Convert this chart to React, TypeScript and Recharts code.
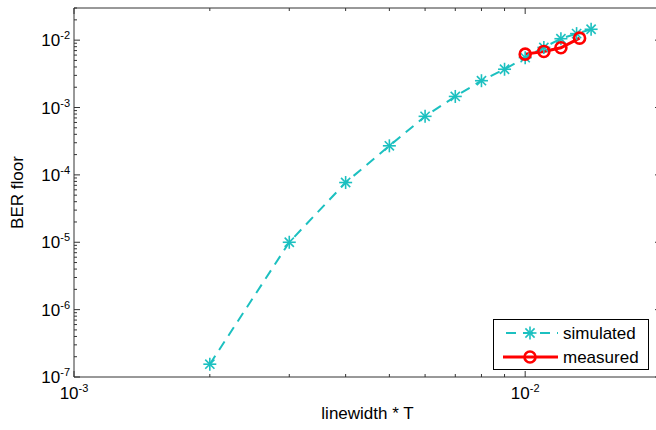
import { LineChart, Line, XAxis, YAxis, ReferenceLine, Legend } from 'recharts';

// linewidth * T values (x) and BER floor (y)
const simX = [0.002, 0.003, 0.004, 0.005, 0.006, 0.007, 0.008, 0.009, 0.010, 0.011, 0.012, 0.013, 0.014];
const simBER = [1.55e-7, 1.0e-5, 7.7e-5, 2.7e-4, 7.4e-4, 1.46e-3, 2.5e-3, 3.7e-3, 5.5e-3, 7.8e-3, 1.05e-2, 1.25e-2, 1.45e-2];
const measX = [0.010, 0.011, 0.012, 0.0132];
const measBER = [6.2e-3, 6.8e-3, 7.7e-3, 1.07e-2];

const xMajorTicks = [0.001, 0.01];
const xMinorTicks = [0.002, 0.003, 0.004, 0.005, 0.006, 0.007, 0.008, 0.009, 0.02];
const yMajorTicks = [1e-7, 1e-6, 1e-5, 1e-4, 1e-3, 1e-2];
const yMinorSteps = [2, 3, 4, 5, 6, 7, 8, 9];

const X_DOMAIN: [number, number] = [0.001, 0.02];
const Y_DOMAIN: [number, number] = [1e-7, 0.03];

const simData = simX.map((x, i) => ({ x, y: simBER[i] }));
const measData = measX.map((x, i) => ({ x, y: measBER[i] }));

const yMinorTicks = yMajorTicks
    .flatMap((d) => yMinorSteps.map((s) => +(d * s).toPrecision(3)))
    .filter((v) => v <= Y_DOMAIN[1]);

const CHART_W = 700;
const CHART_H = 430;
const PLOT_LEFT = 74;
const PLOT_TOP = 8;
const PLOT_RIGHT = 661;
const PLOT_BOTTOM = 377;

const FONT = '"Liberation Sans", Arial, sans-serif';
const CYAN = '#1cc0c0';
const RED = '#ff0000';
const AXIS = '#333';

const isMajor = (v: number) => Math.abs(Math.log10(v) - Math.round(Math.log10(v))) < 1e-6;

const XTick = (props: any) => {
    const { x, payload } = props;
    const v = payload.value;
    const major = isMajor(v);
    const len = major ? 6 : 3;
    return (
        <g>
            <line x1={x} y1={PLOT_BOTTOM} x2={x} y2={PLOT_BOTTOM - len} stroke={AXIS} />
            <line x1={x} y1={PLOT_TOP} x2={x} y2={PLOT_TOP + len} stroke={AXIS} />
            {major && (
                <text x={x} y={399} textAnchor="middle" fontFamily={FONT} fontSize={17} fill="#000">
                    <tspan>10</tspan>
                    <tspan dy={-7} fontSize={11}>{Math.round(Math.log10(v))}</tspan>
                </text>
            )}
        </g>
    );
};

const YTick = (props: any) => {
    const { y, payload } = props;
    const v = payload.value;
    const major = isMajor(v);
    const len = major ? 6 : 3;
    return (
        <g>
            <line x1={PLOT_LEFT} y1={y} x2={PLOT_LEFT + len} y2={y} stroke={AXIS} />
            <line x1={PLOT_RIGHT} y1={y} x2={PLOT_RIGHT - len} y2={y} stroke={AXIS} />
            {major && (
                <text x={70} y={y + 6} textAnchor="end" fontFamily={FONT} fontSize={17} fill="#000">
                    <tspan>10</tspan>
                    <tspan dy={-7} fontSize={11}>{Math.round(Math.log10(v))}</tspan>
                </text>
            )}
        </g>
    );
};

const Star = ({ cx, cy, r = 6.5 }: { cx: number; cy: number; r?: number }) => {
    const d = r * Math.SQRT1_2;
    return (
        <g stroke={CYAN} strokeWidth={1.6}>
            <line x1={cx - r} y1={cy} x2={cx + r} y2={cy} />
            <line x1={cx} y1={cy - r} x2={cx} y2={cy + r} />
            <line x1={cx - d} y1={cy - d} x2={cx + d} y2={cy + d} />
            <line x1={cx - d} y1={cy + d} x2={cx + d} y2={cy - d} />
        </g>
    );
};

const Ring = ({ cx, cy }: { cx: number; cy: number }) => (
    <circle cx={cx} cy={cy} r={5.5} fill="none" stroke={RED} strokeWidth={2.6} />
);

const LegendBox = () => (
    <svg width={156} height={51} style={{ display: 'block' }}>
        <rect x={0.5} y={0.5} width={155} height={50} fill="#fff" stroke="#000" />
        <line x1={10} y1={14} x2={65} y2={14} stroke={CYAN} strokeWidth={2} strokeDasharray="10 7" strokeDashoffset={-3} />
        <Star cx={37} cy={14} />
        <text x={70} y={20} fontFamily={FONT} fontSize={17} fill="#000">simulated</text>
        <line x1={10} y1={38} x2={65} y2={38} stroke={RED} strokeWidth={3} />
        <Ring cx={37} cy={38} />
        <text x={70} y={44} fontFamily={FONT} fontSize={17} fill="#000">measured</text>
    </svg>
);

export default function App() {
    return (
        <div style={{ position: 'absolute', left: 0, top: 0, width: 656, height: 430, overflow: 'hidden', background: '#fff' }}>
            <LineChart
                width={CHART_W}
                height={CHART_H}
                margin={{ top: PLOT_TOP, right: CHART_W - PLOT_RIGHT, bottom: 0, left: 0 }}
            >
                <XAxis
                    dataKey="x"
                    type="number"
                    scale="log"
                    domain={X_DOMAIN}
                    allowDataOverflow
                    ticks={[...xMajorTicks, ...xMinorTicks].sort((a, b) => a - b)}
                    interval={0}
                    tick={XTick}
                    tickLine={false}
                    axisLine={{ stroke: AXIS }}
                    height={CHART_H - PLOT_BOTTOM}
                    label={() => (
                        <text x={(PLOT_LEFT + PLOT_RIGHT) / 2} y={419} textAnchor="middle" fontFamily={FONT} fontSize={17} fill="#000">
                            linewidth * T
                        </text>
                    )}
                />
                <YAxis
                    type="number"
                    scale="log"
                    domain={Y_DOMAIN}
                    allowDataOverflow
                    ticks={[...yMajorTicks, ...yMinorTicks].sort((a, b) => a - b)}
                    interval={0}
                    tick={YTick}
                    tickLine={false}
                    axisLine={{ stroke: AXIS }}
                    width={PLOT_LEFT}
                    label={() => (
                        <text
                            x={23}
                            y={(PLOT_TOP + PLOT_BOTTOM) / 2}
                            transform={`rotate(-90 23 ${(PLOT_TOP + PLOT_BOTTOM) / 2})`}
                            textAnchor="middle"
                            fontFamily={FONT}
                            fontSize={17}
                            fill="#000"
                        >
                            BER floor
                        </text>
                    )}
                />
                <ReferenceLine y={Y_DOMAIN[1]} stroke={AXIS} />
                <ReferenceLine x={X_DOMAIN[1]} stroke={AXIS} />
                <Line
                    data={simData}
                    dataKey="y"
                    name="simulated"
                    type="linear"
                    stroke={CYAN}
                    strokeWidth={2}
                    strokeDasharray="10 7"
                    dot={(p: any) => <Star key={`s${p.index}`} cx={p.cx} cy={p.cy} />}
                    isAnimationActive={false}
                />
                <Line
                    data={measData}
                    dataKey="y"
                    name="measured"
                    type="linear"
                    stroke={RED}
                    strokeWidth={3}
                    dot={(p: any) => <Ring key={`m${p.index}`} cx={p.cx} cy={p.cy} />}
                    isAnimationActive={false}
                />
                <Legend
                    layout="horizontal"
                    verticalAlign="middle"
                    align="center"
                    content={() => <LegendBox />}
                    wrapperStyle={{ left: 493, top: 319, width: 156, height: 51 }}
                />
            </LineChart>
        </div>
    );
}
